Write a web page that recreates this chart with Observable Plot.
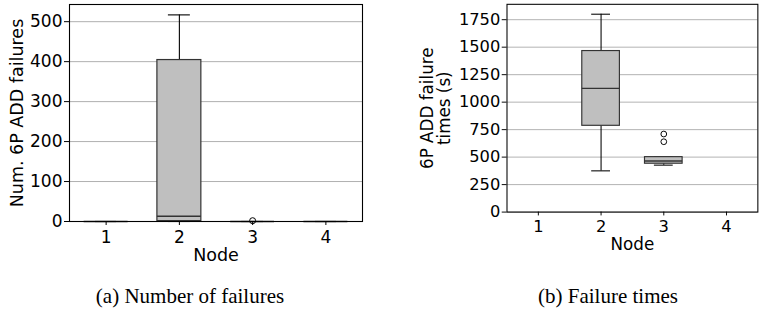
<!DOCTYPE html>
<html>
<head>
<meta charset="utf-8">
<script src="https://cdn.jsdelivr.net/npm/d3@7"></script>
<script src="https://cdn.jsdelivr.net/npm/@observablehq/plot@0.6"></script>
<style>
  html, body { margin: 0; padding: 0; background: white; width: 766px; height: 314px; overflow: hidden; position: relative; }
  #a { position: absolute; left: 0; top: 0; }
  #b { position: absolute; left: 383px; top: 0; }
  .cap { position: absolute; top: 286px; width: 300px; text-align: center; font-family: "Liberation Serif", "Times New Roman", serif; font-size: 21px; line-height: 21px; color: #000; }
</style>
</head>
<body>
<div id="a"></div>
<div id="b"></div>
<div class="cap" style="left:40px">(a) Number of failures</div>
<div class="cap" style="left:458px">(b) Failure times</div>
<script>
// ---- data ----
const nodes = [1, 2, 3, 4];
const xTickLabels = ["1", "2", "3", "4"];

// (a) number of failures: box summary per node
const failMin = [0, 0, 0, 0];
const failQ1  = [0, 1, 0, 0];
const failMed = [0, 13, 0, 0];
const failQ3  = [0, 404, 0, 0];
const failMax = [0, 517, 0, 0];
const failOutNode  = [3];
const failOutValue = [2];
const failTicks = [0, 100, 200, 300, 400, 500];

// (b) failure times (s): box summary per node (nodes 2 and 3 only)
const timeNodes = [2, 3];
const timeMin = [375, 427];
const timeQ1  = [785, 440];
const timeMed = [1125, 465];
const timeQ3  = [1465, 500];
const timeMax = [1800, 500];
const timeOutNode  = [3, 3];
const timeOutValue = [640, 710];
const timeTicks = [0, 250, 500, 750, 1000, 1250, 1500, 1750];

// ---- build tables ----
const failStats = nodes.map((n, i) => ({node: n, min: failMin[i], q1: failQ1[i], med: failMed[i], q3: failQ3[i], max: failMax[i]}));
const failOut = failOutNode.map((n, i) => ({node: n, value: failOutValue[i]}));
const timeStats = timeNodes.map((n, i) => ({node: n, min: timeMin[i], q1: timeQ1[i], med: timeMed[i], q3: timeQ3[i], max: timeMax[i]}));
const timeOut = timeOutNode.map((n, i) => ({node: n, value: timeOutValue[i]}));

const BOX = 0.3, CAP = 0.15;
const edge = "#333333";

function boxChart({stats, outliers, ticks, yMax, width, marginLeft, marginRight, ylabel, ylabelDx}) {
  return Plot.plot({
    width, height: 270,
    marginLeft, marginRight, marginTop: 4, marginBottom: 49,
    style: {fontFamily: "DejaVu Sans", fontSize: "17px", background: "white", color: "#000", overflow: "visible"},
    x: {domain: [0.5, 4.5]},
    y: {domain: [0, yMax]},
    marks: [
      Plot.gridY(ticks, {stroke: "#b0b0b0", strokeOpacity: 1, strokeWidth: 1}),
      Plot.ruleX(stats, {x: "node", y1: "min", y2: "q1", stroke: "#000", strokeWidth: 1.1}),
      Plot.ruleX(stats, {x: "node", y1: "q3", y2: "max", stroke: "#000", strokeWidth: 1.1}),
      Plot.ruleY(stats, {x1: d => d.node - CAP, x2: d => d.node + CAP, y: "max", stroke: "#000", strokeWidth: 1.1}),
      Plot.ruleY(stats, {x1: d => d.node - CAP, x2: d => d.node + CAP, y: "min", stroke: "#000", strokeWidth: 1.1}),
      Plot.rect(stats, {x1: d => d.node - BOX, x2: d => d.node + BOX, y1: "q1", y2: "q3", fill: "#bfbfbf", stroke: edge, strokeWidth: 1.2}),
      Plot.ruleY(stats, {x1: d => d.node - BOX, x2: d => d.node + BOX, y: "med", stroke: edge, strokeWidth: 1.5}),
      Plot.dot(outliers, {x: "node", y: "value", r: 3, stroke: "#000", fill: "none", strokeWidth: 1}),
      Plot.frame({stroke: "#000", strokeWidth: 1.1}),
      Plot.axisX({ticks: nodes, tickFormat: d => xTickLabels[nodes.indexOf(d)], tickSize: 4, tickPadding: 5, fontSize: 17, label: null}),
      Plot.axisY({ticks, tickFormat: d => String(d), tickSize: 5, tickPadding: 2, fontSize: 17, label: null}),
      Plot.text(["Node"], {frameAnchor: "bottom", dy: 34, fontSize: 17.5, textAnchor: "middle", lineAnchor: "middle", fill: "#000"}),
      Plot.text([ylabel], {frameAnchor: "left", dx: ylabelDx, rotate: -90, fontSize: 17.5, textAnchor: "middle", lineAnchor: "middle", lineHeight: 1.0, fill: "#000"})
    ]
  });
}

document.getElementById("a").appendChild(boxChart({
  stats: failStats, outliers: failOut, ticks: failTicks, yMax: 543,
  width: 383, marginLeft: 69, marginRight: 21,
  ylabel: "Num. 6P ADD failures", ylabelDx: -52
}));
document.getElementById("b").appendChild(boxChart({
  stats: timeStats, outliers: timeOut, ticks: timeTicks, yMax: 1890,
  width: 400, marginLeft: 129, marginRight: 9,
  ylabel: "6P ADD failure\ntimes (s)", ylabelDx: -74
}));
</script>
</body>
</html>
